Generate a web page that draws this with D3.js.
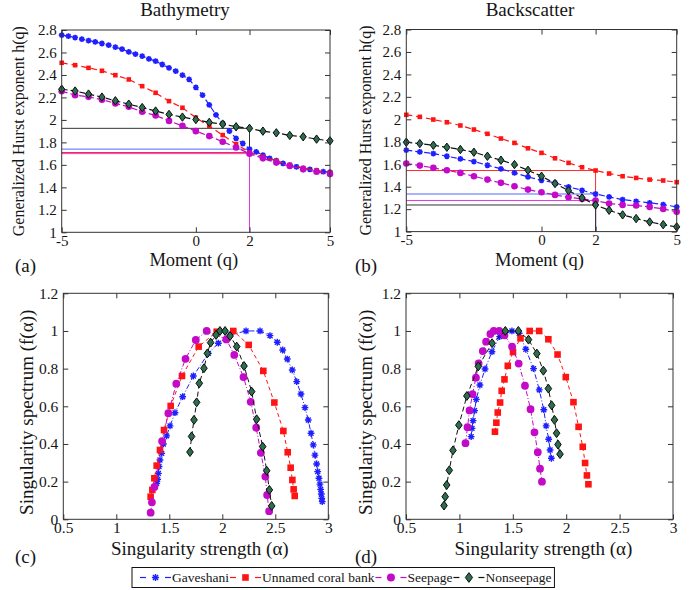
<!DOCTYPE html>
<html>
<head>
<meta charset="utf-8">
<script src="https://cdn.jsdelivr.net/npm/d3@7"></script>
<style>
  body { margin: 0; background: #fff; }
  svg { display: block; }
  svg text { fill: #151515; }
</style>
</head>
<body>
<svg id="chart" width="696" height="590"></svg>
<script>
// ---- moments q ----
const qFine = [-5,-4.75,-4.5,-4.25,-4,-3.75,-3.5,-3.25,-3,-2.75,-2.5,-2.25,-2,-1.75,-1.5,-1.25,-1,-0.75,-0.5,-0.25,
               0,0.25,0.5,0.75,1,1.25,1.5,1.75,2,2.25,2.5,2.75,3,3.25,3.5,3.75,4,4.25,4.5,4.75,5];
const qCoarse = [-5,-4.5,-4,-3.5,-3,-2.5,-2,-1.5,-1,-0.5,0,0.5,1,1.5,2,2.5,3,3.5,4,4.5,5];

// ---- generalized Hurst exponent h(q), bathymetry ----
const bathyGaveshaniH = [2.754,2.745,2.733,2.718,2.706,2.694,2.68,2.665,2.647,2.63,2.605,2.585,2.567,2.543,2.523,2.493,2.463,2.434,2.398,2.36,
                         2.289,2.22,2.134,2.045,1.969,1.90,1.835,1.79,1.74,1.716,1.687,1.658,1.637,1.613,1.598,1.583,1.569,1.56,1.548,1.539,1.535];
const bathyUnnamedH   = [2.508,2.487,2.463,2.437,2.398,2.36,2.30,2.241,2.167,2.108,2.02,1.945,1.865,1.785,1.71,1.672,1.635,1.60,1.572,1.55,1.53];
const bathySeepageH   = [2.255,2.22,2.205,2.18,2.147,2.117,2.072,2.04,1.991,1.947,1.90,1.856,1.806,1.755,1.70,1.658,1.62,1.59,1.56,1.539,1.518];
const bathyNonseepH   = [2.273,2.257,2.23,2.203,2.17,2.14,2.11,2.079,2.049,2.025,2.003,1.978,1.963,1.939,1.925,1.90,1.885,1.862,1.85,1.829,1.814];

// ---- generalized Hurst exponent h(q), backscatter ----
const bsGaveshaniH = [1.725,1.71,1.695,1.671,1.648,1.624,1.591,1.559,1.523,1.487,1.457,1.434,1.398,1.368,1.335,1.309,1.285,1.27,1.256,1.241,1.22];
const bsUnnamedH   = [2.04,2.022,1.998,1.974,1.945,1.909,1.871,1.829,1.79,1.742,1.701,1.653,1.612,1.573,1.544,1.517,1.493,1.478,1.463,1.455,1.44];
const bsSeepageH   = [1.606,1.588,1.568,1.546,1.523,1.493,1.463,1.434,1.404,1.374,1.35,1.327,1.306,1.291,1.277,1.25,1.238,1.232,1.22,1.202,1.176];
const bsNonseepH   = [1.796,1.784,1.769,1.751,1.731,1.707,1.671,1.636,1.597,1.546,1.493,1.428,1.365,1.30,1.237,1.19,1.149,1.116,1.086,1.062,1.042];

// ---- singularity spectra f(alpha), bathymetry ----
const bathyGaveshaniA = [1.381,1.39,1.397,1.403,1.412,1.428,1.444,1.475,1.507,1.554,1.626,1.727,1.868,1.963,2.073,2.224,2.356,2.45,2.519,
                         2.57,2.613,2.66,2.702,2.742,2.78,2.811,2.837,2.858,2.874,2.89,2.9,2.912,2.921,2.928,2.934,2.938,2.943];
const bathyGaveshaniF = [0.191,0.212,0.244,0.28,0.315,0.35,0.40,0.443,0.496,0.566,0.651,0.761,0.881,0.935,0.979,1.0,1.0,0.975,0.94,
                         0.899,0.851,0.793,0.731,0.665,0.593,0.527,0.457,0.395,0.341,0.294,0.253,0.218,0.187,0.159,0.134,0.111,0.094];
const bathyUnnamedA = [1.324,1.34,1.359,1.381,1.412,1.45,1.513,1.62,1.777,1.947,2.104,2.249,2.387,2.491,2.576,2.617,2.645,2.661,2.673,2.683];
const bathyUnnamedF = [0.12,0.156,0.218,0.285,0.368,0.474,0.602,0.761,0.917,0.996,1.0,0.926,0.788,0.62,0.469,0.356,0.274,0.209,0.159,0.124];
const bathySeepageA = [1.324,1.336,1.36,1.432,1.491,1.566,1.653,1.75,1.853,2.038,2.113,2.2,2.268,2.32,2.364,2.406,2.423,2.442];
const bathySeepageF = [0.035,0.09,0.172,0.415,0.563,0.72,0.852,0.952,1.0,0.955,0.873,0.755,0.624,0.486,0.353,0.227,0.129,0.043];
const bathyNonseepA = [1.695,1.71,1.733,1.758,1.783,1.827,1.859,1.89,1.941,1.978,2.026,2.073,2.136,2.205,2.277,2.324,2.381,2.419,2.444,2.466];
const bathyNonseepF = [0.357,0.44,0.528,0.621,0.722,0.802,0.881,0.938,0.979,1.0,1.0,0.973,0.917,0.814,0.678,0.531,0.386,0.258,0.156,0.071];

// ---- singularity spectra f(alpha), backscatter ----
const bsGaveshaniA = [1.11,1.118,1.128,1.142,1.158,1.192,1.24,1.305,1.377,1.492,1.56,1.622,1.694,1.748,1.79,1.812,1.836,1.849,1.861];
const bsGaveshaniF = [0.439,0.483,0.524,0.577,0.637,0.713,0.798,0.89,0.97,1.0,0.988,0.903,0.80,0.687,0.582,0.496,0.425,0.368,0.324];
const bsUnnamedA = [1.333,1.346,1.359,1.381,1.396,1.422,1.453,1.502,1.572,1.658,1.747,1.833,1.919,1.996,2.068,2.116,2.155,2.177,2.194,2.208];
const bsUnnamedF = [0.465,0.513,0.567,0.62,0.682,0.743,0.815,0.888,0.961,1.0,1.0,0.956,0.875,0.755,0.622,0.491,0.385,0.299,0.233,0.186];
const bsSeepageA = [1.057,1.076,1.095,1.123,1.155,1.18,1.219,1.25,1.29,1.322,1.373,1.422,1.493,1.555,1.614,1.666,1.703,1.734,1.755,1.773];
const bsSeepageF = [0.404,0.489,0.578,0.665,0.752,0.828,0.893,0.943,0.984,1.0,1.0,0.977,0.917,0.827,0.709,0.585,0.462,0.356,0.269,0.2];
const bsNonseepA = [0.856,0.867,0.881,0.905,0.94,0.995,1.07,1.177,1.306,1.43,1.552,1.647,1.725,1.786,1.833,1.864,1.89,1.91,1.923,1.942];
const bsNonseepF = [0.073,0.12,0.182,0.26,0.366,0.50,0.655,0.812,0.935,1.0,1.0,0.954,0.88,0.789,0.694,0.605,0.528,0.457,0.397,0.346];

// ---- names and tick labels ----
const seriesNames = ["Gaveshani", "Unnamed coral bank", "Seepage", "Nonseepage"];
const titles = ["Bathymetry", "Backscatter"];
const qTicks = [-5, 0, 2, 5];
const qTickLabels = ["-5", "0", "2", "5"];
const hTicks = [1, 1.2, 1.4, 1.6, 1.8, 2, 2.2, 2.4, 2.6, 2.8];
const hTickLabels = ["1", "1.2", "1.4", "1.6", "1.8", "2", "2.2", "2.4", "2.6", "2.8"];
const aTicks = [0.5, 1, 1.5, 2, 2.5, 3];
const aTickLabels = ["0.5", "1", "1.5", "2", "2.5", "3"];
const fTicks = [0, 0.2, 0.4, 0.6, 0.8, 1, 1.2];
const fTickLabels = ["0", "0.2", "0.4", "0.6", "0.8", "1", "1.2"];
const qRef = 2;

const FONT = "'Liberation Serif', serif";

// ---- styling per series ----
const styles = [
  { color: "#1f1fff", refColor: "#5566ff", marker: "star",    lineColor: "#1f1fff", dashHq: "6,3", dashSpec: "5,2,1,2" },
  { color: "#ff1414", refColor: "#ff2a2a", marker: "square",  lineColor: "#ff1414", dashHq: "6,4", dashSpec: "4,3" },
  { color: "#c20ac8", refColor: "#e23ae2", marker: "circle",  lineColor: "#c20ac8", dashHq: "6,3", dashSpec: "5,2,1,2" },
  { color: "#2d6e4e", refColor: "#333333", marker: "diamond", lineColor: "#111111", dashHq: "6,3", dashSpec: "5,3" }
];

const svg = d3.select("#chart");

function label(g, x, y, size, str, anchor) {
  return g.append("text").attr("x", x).attr("y", y)
    .style("font-family", FONT).style("font-size", size + "px")
    .attr("text-anchor", anchor || "start").text(str);
}

function markerPath(type, s) {
  if (type === "star") {
    const k = s * 0.72;
    return `M${-s},0H${s}M0,${-s}V${s}M${-k},${-k}L${k},${k}M${-k},${k}L${k},${-k}`;
  }
  if (type === "square") return `M${-s},${-s}H${s}V${s}H${-s}Z`;
  if (type === "circle") return d3.symbol(d3.symbolCircle, Math.PI * s * s)();
  // diamond, taller than wide
  return `M0,${-s * 1.35}L${s},0L0,${s * 1.35}L${-s},0Z`;
}

function drawMarkers(g, pts, st, sizes) {
  const s = sizes[st.marker];
  const m = g.append("g").selectAll("path").data(pts).join("path")
    .attr("transform", d => `translate(${d[0]},${d[1]})`)
    .attr("d", markerPath(st.marker, s));
  if (st.marker === "star") {
    m.attr("fill", "none").attr("stroke", st.color).attr("stroke-width", sizes.starW);
  } else if (st.marker === "diamond") {
    m.attr("fill", st.color).attr("stroke", "#0b0b0b").attr("stroke-width", 1);
  } else {
    m.attr("fill", st.color).attr("stroke", "none");
  }
}

function frameAndAxes(g, x, y, xt, xl, yt, yl, fs) {
  const [x0, x1] = x.range(), [y0, y1] = y.range();
  const mk = (axis, tr, labels) => {
    const a = g.append("g").attr("transform", tr).call(axis);
    a.select(".domain").remove();
    a.attr("color", "#333").attr("font-family", null).attr("font-size", null);
    a.selectAll("line").attr("stroke-width", 1);
    a.selectAll("text").style("font-family", FONT).style("font-size", fs + "px");
    if (!labels) a.selectAll("text").remove();
    return a;
  };
  const fmt = (ticks, labels) => (d => labels[ticks.indexOf(d)]);
  mk(d3.axisBottom(x).tickValues(xt).tickSize(-5).tickPadding(3).tickFormat(fmt(xt, xl)), `translate(0,${y0})`, true);
  mk(d3.axisTop(x).tickValues(xt).tickSize(-5).tickFormat(""), `translate(0,${y1})`, false);
  mk(d3.axisLeft(y).tickValues(yt).tickSize(-5).tickPadding(5).tickFormat(fmt(yt, yl)), `translate(${x0},0)`, true);
  mk(d3.axisRight(y).tickValues(yt).tickSize(-5).tickFormat(""), `translate(${x1},0)`, false);
  g.append("rect").attr("x", x0).attr("y", y1).attr("width", x1 - x0).attr("height", y0 - y1)
    .attr("fill", "none").attr("stroke", "#333").attr("stroke-width", 1);
}

// ---- h(q) panels ----
function hurstPanel(box, qs, hs, title, tag) {
  const g = svg.append("g");
  const x = d3.scaleLinear().domain([-5, 5]).range([box.l, box.r]);
  const y = d3.scaleLinear().domain([1, 2.8]).range([box.b, box.t]);

  // reference lines at q = 2, lowest value drawn last
  const refs = hs.map((h, i) => ({ h: h[qs[i].indexOf(qRef)], st: styles[i] }))
                 .sort((a, b) => b.h - a.h);
  refs.forEach(r => {
    g.append("line").attr("x1", x(-5)).attr("x2", x(qRef)).attr("y1", y(r.h)).attr("y2", y(r.h))
      .attr("stroke", r.st.refColor).attr("stroke-width", 1);
    g.append("line").attr("x1", x(qRef)).attr("x2", x(qRef)).attr("y1", y(r.h)).attr("y2", y(1))
      .attr("stroke", r.st.refColor).attr("stroke-width", 1);
  });

  const sizes = { star: 2.9, starW: 1.6, square: 2.3, circle: 3.3, diamond: 3.1 };
  hs.forEach((h, i) => {
    const st = styles[i];
    const pts = h.map((v, j) => [x(qs[i][j]), y(v)]);
    g.append("path").attr("d", d3.line()(pts)).attr("fill", "none")
      .attr("stroke", st.lineColor).attr("stroke-width", 1.2).attr("stroke-dasharray", st.dashHq);
    drawMarkers(g, pts, st, sizes);
  });

  frameAndAxes(g, x, y, qTicks, qTickLabels, hTicks, hTickLabels, 15);

  label(g, box.titleX, 16, 19, title, "middle");
  label(g, (box.l + box.r) / 2 - 2, 266, 18.5, "Moment (q)", "middle");
  label(g, 0, 0, 16, "Generalized Hurst exponent h(q)", "middle")
    .attr("transform", `translate(${box.yl},${(box.t + box.b) / 2}) rotate(-90)`);
  label(g, box.tagX, 272, 19, tag);
}

// ---- f(alpha) panels ----
function spectrumPanel(box, as, fs, tag) {
  const g = svg.append("g");
  const x = d3.scaleLinear().domain([0.5, 3]).range([box.l, box.r]);
  const y = d3.scaleLinear().domain([0, 1.2]).range([box.b, box.t]);
  const sizes = { star: 3.4, starW: 1.4, square: 3.3, circle: 3.9, diamond: 3.3 };
  as.forEach((a, i) => {
    const st = styles[i];
    const pts = a.map((v, j) => [x(v), y(fs[i][j])]);
    g.append("path").attr("d", d3.line()(pts)).attr("fill", "none")
      .attr("stroke", st.lineColor).attr("stroke-width", 1).attr("stroke-dasharray", st.dashSpec);
    drawMarkers(g, pts, st, sizes);
  });

  frameAndAxes(g, x, y, aTicks, aTickLabels, fTicks, fTickLabels, 15.5);

  label(g, (box.l + box.r) / 2 + 4, 555, 19, "Singularity strength (\u03b1)", "middle");
  label(g, 0, 0, 19, "Singularity spectrum (f(\u03b1))", "middle")
    .attr("transform", `translate(${box.yl},${(box.t + box.b) / 2 + 6}) rotate(-90)`);
  label(g, box.tagX, 563, 19, tag);
}

hurstPanel({ l: 61.7, r: 330, t: 30, b: 232.3, titleX: 185, yl: 24, tagX: 15 },
  [qFine, qCoarse, qCoarse, qCoarse],
  [bathyGaveshaniH, bathyUnnamedH, bathySeepageH, bathyNonseepH], titles[0], "(a)");
hurstPanel({ l: 406.3, r: 676.7, t: 29.5, b: 231.6, titleX: 530, yl: 371, tagX: 355 },
  [qCoarse, qCoarse, qCoarse, qCoarse],
  [bsGaveshaniH, bsUnnamedH, bsSeepageH, bsNonseepH], titles[1], "(b)");
spectrumPanel({ l: 63.3, r: 328.3, t: 293.3, b: 519.3, yl: 33, tagX: 15 },
  [bathyGaveshaniA, bathyUnnamedA, bathySeepageA, bathyNonseepA],
  [bathyGaveshaniF, bathyUnnamedF, bathySeepageF, bathyNonseepF], "(c)");
spectrumPanel({ l: 406, r: 673, t: 293.3, b: 519.3, yl: 372, tagX: 355 },
  [bsGaveshaniA, bsUnnamedA, bsSeepageA, bsNonseepA],
  [bsGaveshaniF, bsUnnamedF, bsSeepageF, bsNonseepF], "(d)");

// ---- legend ----
const lg = svg.append("g");
const legBox = lg.append("rect").attr("x", 132).attr("y", 567.5).attr("height", 20)
  .attr("fill", "#fff").attr("stroke", "#111").attr("stroke-width", 1);
const legSizes = { star: 3.6, starW: 1.4, square: 3.3, circle: 4, diamond: 3.6 };
let cx = 140;
const ly = 577.5;
seriesNames.forEach((name, i) => {
  const st = styles[i];
  lg.append("line").attr("x1", cx).attr("x2", cx + 6).attr("y1", ly).attr("y2", ly)
    .attr("stroke", st.lineColor).attr("stroke-width", 1.2);
  drawMarkers(lg, [[cx + 15.5, ly]], st, legSizes);
  lg.append("line").attr("x1", cx + 25).attr("x2", cx + 31).attr("y1", ly).attr("y2", ly)
    .attr("stroke", st.lineColor).attr("stroke-width", 1.2);
  const t = label(lg, cx + 32, 582, 13.5, name);
  cx = cx + 32 + t.node().getComputedTextLength() + 1;
});
legBox.attr("width", cx + 2 - 132);
</script>
</body>
</html>
